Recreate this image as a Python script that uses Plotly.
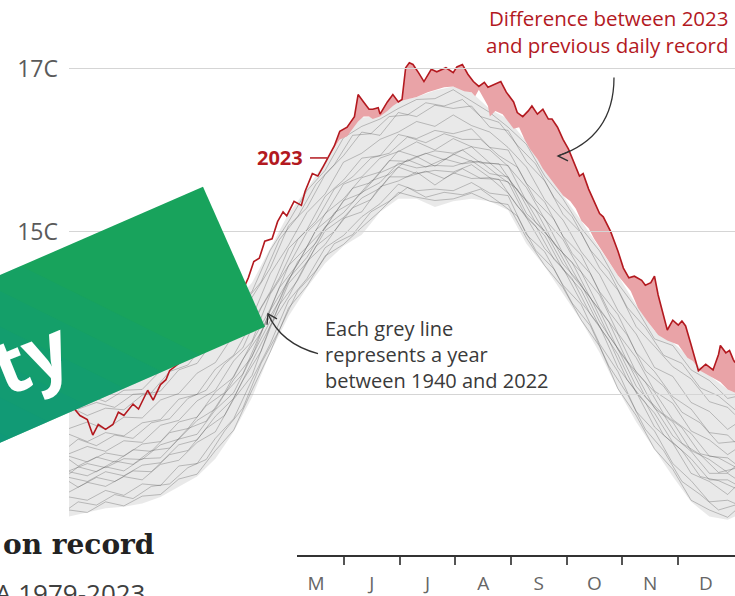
import plotly.graph_objects as go

W, H = 735, 596

# ---------------- data ----------------
# 2023 daily global temperature (day of year, degrees C)
days_2023 = [1, 4, 7, 11, 14, 17, 21, 25, 28, 31,
             36, 39, 44, 47, 51, 54, 56, 61, 65, 69,
             74, 78, 83, 87, 91, 96, 99, 102, 105, 108,
             112, 115, 118, 120, 124, 128, 130, 134, 137, 140,
             143, 146, 149, 153, 157, 159, 162, 165, 167, 170,
             171, 175, 178, 181, 183, 185, 187, 189, 192, 195,
             199, 202, 207, 211, 213, 216, 219, 222, 225, 228,
             230, 233, 237, 240, 244, 246, 249, 252, 254, 257,
             260, 263, 265, 268, 271, 274, 277, 280, 282, 285,
             288, 291, 293, 297, 301, 304, 307, 310, 314, 316,
             319, 321, 323, 326, 328, 331, 334, 336, 338, 341,
             344, 345, 349, 353, 356, 357, 360, 362, 364, 365]
temp_2023 = [12.94, 12.82, 12.74, 12.69, 12.50, 12.63, 12.57, 12.63, 12.78, 12.74,
             12.88, 12.82, 13.05, 12.93, 13.12, 13.18, 13.29, 13.38, 13.45, 13.60,
             13.67, 13.82, 13.91, 14.04, 14.16, 14.28, 14.43, 14.63, 14.67, 14.88,
             14.91, 15.12, 15.24, 15.19, 15.37, 15.32, 15.49, 15.71, 15.68, 15.80,
             15.93, 16.05, 16.23, 16.28, 16.41, 16.68, 16.59, 16.50, 16.50, 16.52,
             16.44, 16.59, 16.68, 16.59, 16.62, 17.01, 17.07, 17.05, 16.95, 16.84,
             16.99, 16.96, 17.01, 16.95, 17.02, 17.05, 16.93, 16.84, 16.78, 16.83,
             16.77, 16.80, 16.84, 16.71, 16.59, 16.46, 16.41, 16.48, 16.54, 16.44,
             16.50, 16.38, 16.38, 16.28, 16.13, 16.01, 15.85, 15.68, 15.71, 15.52,
             15.37, 15.22, 15.18, 15.00, 14.76, 14.55, 14.43, 14.45, 14.40, 14.34,
             14.37, 14.45, 14.22, 13.98, 13.79, 13.91, 13.85, 13.90, 13.84, 13.61,
             13.37, 13.29, 13.37, 13.30, 13.49, 13.60, 13.51, 13.54, 13.43, 13.39]

# previous daily record (top of the grey band) where 2023 beat it
record_days = [143, 149, 153, 156, 159, 162, 165, 167, 171, 175,
               178, 182, 186, 191, 197, 202, 206, 211, 217, 221,
               223, 225, 228, 230, 231, 234, 238, 241, 244, 247,
               250, 253, 257, 260, 264, 268, 271, 275, 278, 281,
               285, 288, 292, 295, 301, 308, 312, 317, 323, 328,
               334, 339, 342, 346, 350, 354, 357, 361, 365]
record_temp = [15.93, 16.13, 16.17, 16.26, 16.35, 16.41, 16.41, 16.38, 16.41, 16.48,
               16.54, 16.60, 16.62, 16.65, 16.71, 16.74, 16.77, 16.78, 16.72, 16.71,
               16.66, 16.74, 16.62, 16.54, 16.41, 16.48, 16.44, 16.35, 16.26, 16.28,
               16.13, 16.01, 15.89, 15.77, 15.65, 15.52, 15.44, 15.37, 15.28, 15.13,
               15.04, 14.91, 14.77, 14.67, 14.46, 14.27, 14.06, 13.90, 13.73, 13.66,
               13.61, 13.45, 13.41, 13.29, 13.24, 13.18, 13.15, 13.06, 13.02]

# grey years 1940-2022 (sampled every ten days, two offset samplings)
grey_days = [1, 11, 21, 31, 41, 51, 61, 71, 81, 91, 101, 111, 121, 131, 141, 151, 161, 171, 181,
             191, 201, 211, 221, 231, 241, 251, 261, 271, 281, 291, 301, 311, 321, 331, 341, 351, 361, 365]
grey_days2 = [1, 6, 16, 26, 36, 46, 56, 66, 76, 86, 96, 106, 116, 126, 136, 146, 156, 166, 176,
              186, 196, 206, 216, 226, 236, 246, 256, 266, 276, 286, 296, 306, 316, 326, 336, 346, 356, 365]
band_low = [11.50, 11.55, 11.60, 11.62, 11.66, 11.74, 11.87, 11.99, 12.21, 12.54,
            12.96, 13.51, 13.96, 14.31, 14.61, 14.82, 14.96, 15.24, 15.40, 15.40,
            15.30, 15.37, 15.40, 15.37, 15.26, 14.85, 14.57, 14.23, 13.90, 13.51,
            13.06, 12.66, 12.32, 11.99, 11.68, 11.50, 11.46, 11.50]
band_high = [13.06, 13.02, 13.02, 13.08, 13.18, 13.33, 13.51, 13.69, 13.91, 14.12,
             14.37, 14.79, 15.22, 15.52, 15.85, 16.19, 16.40, 16.41, 16.60, 16.65,
             16.73, 16.78, 16.71, 16.50, 16.38, 16.10, 15.77, 15.44, 15.13, 14.79,
             14.46, 14.10, 13.78, 13.64, 13.43, 13.23, 13.06, 13.02]
grey_a = [11.58, 11.55, 11.68, 11.63, 11.75, 11.77, 11.96, 12.02, 12.31, 12.56, 13.05, 13.52, 14.06, 14.33, 14.70, 14.84, 15.05, 15.25, 15.48,
          15.42, 15.38, 15.40, 15.47, 15.37, 15.33, 14.92, 14.58, 14.31, 13.91, 13.59, 13.07, 12.74, 12.33, 12.08, 11.70, 11.58, 11.49, 11.57]
grey_b = [11.74, 11.70, 11.82, 11.76, 11.90, 11.88, 12.12, 12.15, 12.46, 12.70, 13.18, 13.62, 14.15, 14.42, 14.80, 14.95, 15.18, 15.34, 15.58,
          15.50, 15.52, 15.50, 15.60, 15.47, 15.44, 14.96, 14.75, 14.34, 14.10, 13.62, 13.28, 12.79, 12.55, 12.15, 11.94, 11.68, 11.70, 11.66]
grey_c = [11.80, 11.92, 11.87, 11.99, 11.95, 12.14, 12.19, 12.41, 12.54, 12.94, 13.23, 13.84, 14.20, 14.63, 14.84, 15.16, 15.24, 15.55, 15.62,
          15.73, 15.57, 15.72, 15.65, 15.66, 15.47, 15.17, 14.79, 14.55, 14.13, 13.84, 13.33, 13.03, 12.60, 12.40, 12.03, 11.93, 11.77, 11.86]
grey_d = [11.98, 11.93, 12.05, 12.00, 12.13, 12.16, 12.38, 12.44, 12.73, 12.95, 13.40, 13.84, 14.36, 14.62, 15.01, 15.17, 15.41, 15.53, 15.79,
          15.71, 15.75, 15.73, 15.82, 15.66, 15.61, 15.17, 14.95, 14.53, 14.28, 13.83, 13.49, 13.02, 12.77, 12.41, 12.21, 11.95, 11.95, 11.90]
grey_e = [12.05, 12.00, 12.11, 12.06, 12.21, 12.22, 12.45, 12.51, 12.81, 13.02, 13.47, 13.90, 14.42, 14.68, 15.06, 15.23, 15.48, 15.60, 15.84,
          15.78, 15.81, 15.80, 15.87, 15.71, 15.67, 15.22, 15.01, 14.60, 14.35, 13.89, 13.56, 13.10, 12.84, 12.49, 12.30, 12.03, 12.03, 11.97]
grey_f = [12.06, 12.15, 12.10, 12.21, 12.20, 12.38, 12.45, 12.68, 12.82, 13.18, 13.46, 14.03, 14.40, 14.81, 15.04, 15.38, 15.47, 15.72, 15.82,
          15.92, 15.80, 15.95, 15.86, 15.84, 15.65, 15.37, 14.99, 14.73, 14.33, 14.03, 13.55, 13.25, 12.83, 12.66, 12.31, 12.20, 12.04, 12.11]
grey_g = [12.24, 12.17, 12.28, 12.24, 12.39, 12.42, 12.66, 12.72, 13.03, 13.21, 13.64, 14.05, 14.58, 14.81, 15.22, 15.40, 15.66, 15.73, 15.99,
          15.92, 15.99, 15.96, 16.04, 15.84, 15.81, 15.37, 15.16, 14.73, 14.50, 14.05, 13.74, 13.27, 13.03, 12.69, 12.52, 12.24, 12.22, 12.15]
grey_h = [12.27, 12.36, 12.30, 12.43, 12.41, 12.62, 12.68, 12.92, 13.05, 13.41, 13.65, 14.23, 14.58, 14.99, 15.21, 15.58, 15.67, 15.90, 15.98,
          16.10, 16.00, 16.14, 16.04, 16.00, 15.80, 15.54, 15.15, 14.90, 14.50, 14.22, 13.75, 13.45, 13.04, 12.89, 12.55, 12.44, 12.26, 12.32]
grey_i = [12.51, 12.42, 12.53, 12.49, 12.65, 12.69, 12.94, 13.00, 13.31, 13.48, 13.88, 14.26, 14.79, 15.02, 15.43, 15.63, 15.90, 15.93, 16.19,
          16.14, 16.24, 16.20, 16.26, 16.03, 16.00, 15.59, 15.36, 14.94, 14.71, 14.26, 13.98, 13.51, 13.28, 12.97, 12.82, 12.53, 12.50, 12.41]
grey_j = [12.58, 12.66, 12.57, 12.72, 12.71, 12.93, 13.01, 13.26, 13.39, 13.73, 13.94, 14.48, 14.83, 15.23, 15.46, 15.85, 15.96, 16.13, 16.22,
          16.35, 16.29, 16.43, 16.30, 16.22, 16.03, 15.79, 15.39, 15.14, 14.75, 14.47, 14.03, 13.74, 13.33, 13.22, 12.90, 12.79, 12.57, 12.63]
grey_k = [12.85, 12.74, 12.83, 12.81, 12.99, 13.04, 13.30, 13.38, 13.69, 13.83, 14.19, 14.55, 15.07, 15.29, 15.70, 15.93, 16.22, 16.18, 16.46,
          16.41, 16.55, 16.51, 16.54, 16.28, 16.24, 15.86, 15.62, 15.21, 14.98, 14.55, 14.28, 13.83, 13.59, 13.34, 13.19, 12.91, 12.84, 12.75]
grey_l = [12.94, 12.99, 12.91, 13.05, 13.06, 13.29, 13.39, 13.65, 13.79, 14.08, 14.26, 14.77, 15.12, 15.50, 15.75, 16.15, 16.29, 16.38, 16.51,
          16.62, 16.63, 16.74, 16.60, 16.46, 16.28, 16.07, 15.68, 15.40, 15.04, 14.76, 14.36, 14.06, 13.68, 13.60, 13.30, 13.17, 12.95, 12.97]
grey_m = [11.60, 11.68, 11.64, 11.77, 11.72, 11.87, 11.90, 12.10, 12.20, 12.55, 12.83, 13.38, 13.79, 14.27, 14.52, 14.85, 14.96, 15.24, 15.37,
          15.54, 15.42, 15.48, 15.45, 15.52, 15.36, 15.19, 14.77, 14.54, 14.12, 13.84, 13.35, 13.01, 12.57, 12.31, 11.93, 11.77, 11.58, 11.64]
grey_n = [11.93, 11.86, 11.98, 11.93, 12.06, 12.05, 12.26, 12.31, 12.58, 12.74, 13.17, 13.53, 14.10, 14.40, 14.82, 15.00, 15.29, 15.39, 15.67,
          15.67, 15.74, 15.65, 15.77, 15.65, 15.64, 15.31, 15.07, 14.66, 14.42, 13.98, 13.67, 13.18, 12.90, 12.50, 12.31, 11.99, 11.94, 11.85]
grey_o = [12.02, 12.11, 12.05, 12.18, 12.14, 12.31, 12.34, 12.58, 12.67, 13.01, 13.25, 13.77, 14.15, 14.63, 14.86, 15.23, 15.36, 15.62, 15.70,
          15.88, 15.79, 15.89, 15.83, 15.86, 15.68, 15.52, 15.11, 14.87, 14.46, 14.19, 13.72, 13.41, 12.97, 12.75, 12.40, 12.26, 12.04, 12.09]
grey_p = [12.20, 12.12, 12.23, 12.17, 12.32, 12.30, 12.53, 12.58, 12.86, 13.02, 13.43, 13.76, 14.31, 14.60, 15.02, 15.21, 15.53, 15.60, 15.87,
          15.86, 15.96, 15.88, 16.00, 15.84, 15.83, 15.50, 15.27, 14.85, 14.62, 14.18, 13.89, 13.41, 13.15, 12.76, 12.59, 12.27, 12.22, 12.11]
grey_q = [12.36, 12.45, 12.37, 12.50, 12.46, 12.65, 12.70, 12.95, 13.05, 13.37, 13.57, 14.06, 14.43, 14.90, 15.13, 15.52, 15.67, 15.90, 15.96,
          16.16, 16.09, 16.20, 16.13, 16.13, 15.93, 15.79, 15.38, 15.15, 14.73, 14.48, 14.02, 13.73, 13.29, 13.10, 12.78, 12.65, 12.40, 12.42]
grey_r = [12.91, 12.82, 12.90, 12.84, 13.00, 13.02, 13.28, 13.36, 13.65, 13.77, 14.11, 14.38, 14.90, 15.18, 15.58, 15.82, 16.18, 16.20, 16.41,
          16.43, 16.58, 16.54, 16.62, 16.41, 16.34, 16.06, 15.83, 15.42, 15.18, 14.77, 14.51, 14.07, 13.82, 13.48, 13.38, 13.08, 12.98, 12.81]
grey_years = [grey_a, grey_b, grey_c, grey_d, grey_e, grey_f, grey_g, grey_h, grey_i, grey_j, grey_k, grey_l]
grey_years2 = [grey_m, grey_n, grey_o, grey_p, grey_q, grey_r]

# axes
y_ticks = [13, 15, 17]
y_labels = ["13C", "15C", "17C"]
month_bounds = [5, 6, 7, 8, 9, 10, 11]
month_centers = [4.5, 5.5, 6.5, 7.5, 8.5, 9.5, 10.5, 11.5]
month_labels = ["M", "J", "J", "A", "S", "O", "N", "D"]

# ---------------- styling ----------------
RED = "#b3191f"
PINK = "#e9a3a7"
FONT = "Open Sans"
GREY_LINE = "rgba(85,85,85,0.34)"


def P(x, y):
    return x / W, 1 - y / H


def path(points, close=False):
    s = ""
    for i, (x, y) in enumerate(points):
        px, py = P(x, y)
        s += ("M" if i == 0 else "L") + f" {px:.5f} {py:.5f} "
    return s + ("Z" if close else "")


def qpath(p0, c, p1):
    a, b, d = P(*p0), P(*c), P(*p1)
    return f"M {a[0]:.5f} {a[1]:.5f} Q {b[0]:.5f} {b[1]:.5f} {d[0]:.5f} {d[1]:.5f}"


def clip_halfplane(poly, g, s):
    """keep the part of polygon where p.g >= s (Sutherland-Hodgman)"""
    out = []
    n = len(poly)
    for i in range(n):
        cur, nxt = poly[i], poly[(i + 1) % n]
        dc = cur[0] * g[0] + cur[1] * g[1] - s
        dn = nxt[0] * g[0] + nxt[1] * g[1] - s
        if dc >= 0:
            out.append(cur)
        if (dc >= 0) != (dn >= 0):
            t = dc / (dc - dn)
            out.append((cur[0] + t * (nxt[0] - cur[0]), cur[1] + t * (nxt[1] - cur[1])))
    return out


fig = go.Figure()

# soft envelope of all grey years
fig.add_trace(go.Scatter(x=grey_days, y=band_low, mode="lines", line=dict(width=0),
                         hoverinfo="skip", showlegend=False))
fig.add_trace(go.Scatter(x=grey_days, y=band_high, mode="lines", line=dict(width=0),
                         fill="tonexty", fillcolor="rgba(120,120,120,0.16)",
                         hoverinfo="skip", showlegend=False))
for yr in grey_years:
    fig.add_trace(go.Scatter(x=grey_days, y=yr, mode="lines",
                             line=dict(color=GREY_LINE, width=1),
                             hoverinfo="skip", showlegend=False))
for yr in grey_years2:
    fig.add_trace(go.Scatter(x=grey_days2, y=yr, mode="lines",
                             line=dict(color=GREY_LINE, width=1),
                             hoverinfo="skip", showlegend=False))

# red difference area
sub_days = [d for d in days_2023 if d >= record_days[0]]
sub_temp = [t for d, t in zip(days_2023, temp_2023) if d >= record_days[0]]
fig.add_trace(go.Scatter(x=record_days, y=record_temp, mode="lines", line=dict(width=0),
                         hoverinfo="skip", showlegend=False))
fig.add_trace(go.Scatter(x=sub_days, y=sub_temp, mode="lines", line=dict(width=0),
                         fill="tonexty", fillcolor=PINK, hoverinfo="skip", showlegend=False))

# 2023 line
fig.add_trace(go.Scatter(x=days_2023, y=temp_2023, mode="lines",
                         line=dict(color=RED, width=1.6), showlegend=False))

# month axis holder
fig.add_trace(go.Scatter(x=month_centers, y=[None] * len(month_centers), xaxis="x2", yaxis="y",
                         mode="markers", hoverinfo="skip", showlegend=False))

fig.update_layout(
    width=W, height=H,
    margin=dict(l=0, r=0, t=0, b=0),
    paper_bgcolor="white", plot_bgcolor="rgba(0,0,0,0)",
    font=dict(family=FONT, color="#333"),
    showlegend=False,
    xaxis=dict(domain=[69 / W, 1], range=[1, 365], showgrid=False, zeroline=False,
               showticklabels=False, ticks="", showline=False),
    yaxis=dict(domain=[0, 1], range=[17 - (H - 69) / 82, 17 + 69 / 82],
               tickvals=y_ticks, ticktext=y_labels, showgrid=True, gridcolor="#d5d5d5",
               gridwidth=1, zeroline=False, showline=False, ticks="",
               tickfont=dict(size=23, color="#5a5a5a", family=FONT), ticklabelstandoff=10),
    xaxis2=dict(domain=[297 / W, 1], range=[4.156, 12.024], anchor="free",
                position=1 - 560 / H, side="bottom", showline=True, linecolor="#333",
                linewidth=2, tickvals=month_centers, ticktext=month_labels, ticks="",
                tickfont=dict(size=19, color="#666", family=FONT), showgrid=False,
                zeroline=False, ticklabelstandoff=10,
                minor=dict(tickvals=month_bounds, ticks="outside", ticklen=8,
                           tickwidth=1.5, tickcolor="#555", showgrid=False)),
)

# banner with a green-to-teal gradient towards its lower-left corner
banner = [(-20, 285.7), (203, 188), (265, 329), (-20, 454.5)]
shapes = [dict(type="path", xref="paper", yref="paper", path=path(banner, True),
               fillcolor="#18a35c", line=dict(width=0), layer="above")]
gdir = (-0.447, 0.894)
for lvl in [230, 262, 294, 326, 358, 390]:
    part = clip_halfplane(banner, gdir, lvl)
    if len(part) >= 3:
        shapes.append(dict(type="path", xref="paper", yref="paper", path=path(part, True),
                           fillcolor="rgba(14,146,142,0.14)", line=dict(width=0), layer="above"))
shapes += [
    # 2023 label connector
    dict(type="path", xref="paper", yref="paper", path=path([(310, 159), (327, 159)]),
         line=dict(color=RED, width=1.5), layer="above"),
    # arrows
    dict(type="path", xref="paper", yref="paper", path=qpath((614, 78), (614, 138), (558, 157)),
         line=dict(color="#333", width=1.3), layer="above"),
    dict(type="path", xref="paper", yref="paper", path=path([(570, 152), (558, 157), (568, 162)]),
         line=dict(color="#333", width=1.3), layer="above"),
    dict(type="path", xref="paper", yref="paper", path=qpath((318, 356), (281, 346), (268, 316)),
         line=dict(color="#333", width=1.3), layer="above"),
    dict(type="path", xref="paper", yref="paper", path=path([(267, 327), (268, 316), (277, 321)]),
         line=dict(color="#333", width=1.3), layer="above"),
]
fig.update_layout(shapes=shapes)

ann = []


def add_text(text, x, y, xanchor="left", yanchor="middle", size=20, color="#333",
             family=FONT, align="left", angle=0):
    px, py = P(x, y)
    ann.append(dict(text=text, x=px, y=py, xref="paper", yref="paper", xanchor=xanchor,
                    yanchor=yanchor, showarrow=False, align=align, textangle=angle,
                    font=dict(size=size, color=color, family=family)))


add_text("Difference between 2023<br>and previous daily record", 731, 32, xanchor="right",
         size=20.5, color=RED, align="right")
add_text("Each grey line<br>represents a year<br>between 1940 and 2022", 323, 357,
         size=20, color="#3a3a3a")
add_text("<b>2023</b>", 305, 159, xanchor="right", size=20, color=RED)
add_text("<b>on record</b>", 1, 548, size=28, color="#222", family="DejaVu Serif")
add_text("A 1979-2023", 148, 597, xanchor="right", size=26, color="#404040")
add_text("<b>ity</b>", 19, 362, xanchor="center", size=76, color="white", angle=-22)

fig.update_layout(annotations=ann)

fig.write_html("out.html", config={"displayModeBar": False},
               post_script="document.body.style.margin='0px';document.body.style.overflow='hidden';")
